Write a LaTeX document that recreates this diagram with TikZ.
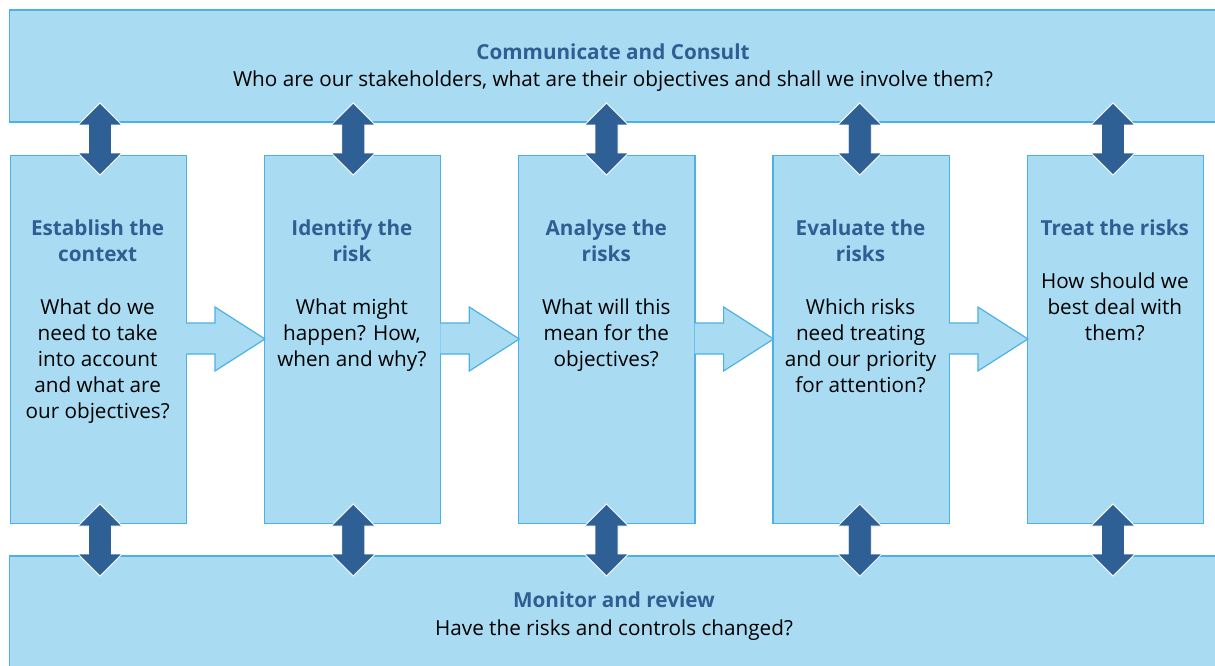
\documentclass[tikz,border=0pt]{standalone}
\usepackage{fontspec}
\setmainfont{Open Sans}
\definecolor{boxfill}{HTML}{A9DCF2}
\definecolor{boxline}{HTML}{4CB2E4}
\definecolor{darkarrow}{HTML}{2F6095}
\definecolor{titleblue}{HTML}{2F5E92}
\newcommand\ttlline[1]{\textcolor{titleblue}{\bfseries #1}}
\tikzset{
  panel/.style={fill=boxfill, draw=boxline, line width=1.3pt},
  flowfill/.style={fill=boxfill},
  flowline/.style={draw=boxline, line width=1.2pt, line join=miter},
  dblarrowstyle/.style={fill=darkarrow, draw=white, line width=0.8pt},
  txt/.style={inner sep=0pt, align=center, font=\fontsize{20.7}{26}\selectfont},
  dblarrow/.pic={
    \path[dblarrowstyle] (0,-36) -- (22,-14) -- (11.5,-14) -- (11.5,14) -- (22,14) -- (0,36)
      -- (-22,14) -- (-11.5,14) -- (-11.5,-14) -- (-22,-14) -- cycle;
  }
}
\begin{document}
\begin{tikzpicture}[x=1pt,y=-1pt]
\useasboundingbox (0,0) rectangle (1215,666);
% bars
\path[fill=boxfill] (9.5,10) rectangle (1220,122);
\draw[boxline, line width=1.3pt] (1220,10) -- (9.5,10) -- (9.5,122) -- (1220,122);
\path[fill=boxfill] (9.5,556) rectangle (1220,670);
\draw[boxline, line width=1.3pt] (1220,556) -- (9.5,556) -- (9.5,670);
% columns
\foreach \i/\x in {1/9.5,2/263.8,3/518.1,4/772.4,5/1026.7}{
  \node[panel, anchor=north west, minimum width=176.3pt, minimum height=368pt, inner sep=0pt] (c\i) at (\x,155) {};
}
% flow arrows between columns
\foreach \x in {186,440.3,694.6,948.9}{
  \path[flowfill] (\x,323) -- (\x+29,323) -- (\x+29,307) -- (\x+79,339) -- (\x+29,371) -- (\x+29,354) -- (\x,354) -- cycle;
  \path[flowline] (\x,323) -- (\x+29,323) -- (\x+29,307) -- (\x+79,339) -- (\x+29,371) -- (\x+29,354) -- (\x,354);
}
% double arrows
\foreach \x in {100,353.3,606.5,859.8,1113}{
  \pic at (\x,139) {dblarrow};
  \pic at (\x,540) {dblarrow};
}
% texts
\node[txt, anchor=base] (toptitle) at (613,60) {\ttlline{Communicate and Consult}};
\node[txt, anchor=base] (topsub) at (613,87) {Who are our stakeholders, what are their objectives and shall we involve them?};
\node[txt, anchor=base] (bottitle) at (614,607) {\ttlline{Monitor and review}};
\node[txt, anchor=base] (botsub) at (614,635) {Have the risks and controls changed?};
\node[txt, anchor=north] (t1) at (97.65,219.5) {\ttlline{Establish the}\\ \ttlline{context}\\[27pt] What do we\\ need to take\\ into account\\ and what are\\ our objectives?};
\node[txt, anchor=north] (t2) at (351.95,219.5) {\ttlline{Identify the}\\ \ttlline{risk}\\[27pt] What might\\ happen? How,\\ when and why?};
\node[txt, anchor=north] (t3) at (606.25,219.5) {\ttlline{Analyse the}\\ \ttlline{risks}\\[27pt] What will this\\ mean for the\\ objectives?};
\node[txt, anchor=north] (t4) at (860.55,219.5) {\ttlline{Evaluate the}\\ \ttlline{risks}\\[27pt] Which risks\\ need treating\\ and our priority\\ for attention?};
\node[txt, anchor=north] (t5) at (1114.85,219.5) {\ttlline{Treat the risks}\\[27pt] How should we\\ best deal with\\ them?};
\end{tikzpicture}
\end{document}
